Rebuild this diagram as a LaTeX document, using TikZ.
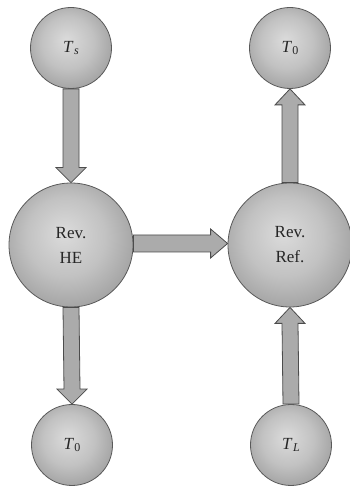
\documentclass[tikz,border=0pt]{standalone}
\usepackage{fontspec}
\setmainfont{Liberation Serif}
\usetikzlibrary{calc}
\pgfdeclareradialshading{sph}{\pgfpoint{-3bp}{5bp}}{%
  color(0bp)=(black!14);
  color(16bp)=(black!24);
  color(34bp)=(black!42);
  color(45bp)=(black!55);
  color(50bp)=(black!60)}
\newcommand{\Tsub}[1]{\textit{T}\kern0.5pt\raisebox{-0.35ex}{\fontsize{12}{12}\selectfont #1}}
\begin{document}
\begin{tikzpicture}[x=1pt,y=1pt,
  sphere/.style={circle, draw=black!65, line width=0.8pt, shading=sph,
    inner sep=0pt, font=\fontsize{17}{25}\selectfont, text=black!85, align=center},
  small/.style={sphere, minimum size=81pt},
  big/.style={sphere, minimum size=124pt},
  barrow/.style={fill=black!33, draw=black!70, line width=0.8pt, line join=miter}]
\useasboundingbox (0,0) rectangle (349,487);
\node[small] (Ts) at (71,439) {\Tsub{\textit{s}}};
\node[small] (T0t) at (290,439) {\Tsub{0}};
\node[big] (HE) at (71,242) {Rev.\\HE};
\node[big] (Ref) at (290,242) {Rev.\\Ref.};
\node[small] (T0b) at (72,42) {\Tsub{0}};
\node[small] (TL) at (291,42) {\Tsub{\textit{L}}};
% Ts -> HE
\draw[barrow] ($(Ts.south)+(-8,0)$) -- ($(HE.north)+(-8,15)$) -- ($(HE.north)+(-15,15)$)
  -- (HE.north) -- ($(HE.north)+(15,15)$) -- ($(HE.north)+(8,15)$) -- ($(Ts.south)+(8,0)$) -- cycle;
% HE -> T0b
\draw[barrow] ($(HE.south)+(-8,0)$) -- ($(T0b.north)+(-8,15)$) -- ($(T0b.north)+(-15,15)$)
  -- (T0b.north) -- ($(T0b.north)+(15,15)$) -- ($(T0b.north)+(8,15)$) -- ($(HE.south)+(8,0)$) -- cycle;
% Ref -> T0t
\draw[barrow] ($(Ref.north)+(-8,0)$) -- ($(T0t.south)+(-8,-16)$) -- ($(T0t.south)+(-15,-16)$)
  -- (T0t.south) -- ($(T0t.south)+(15,-16)$) -- ($(T0t.south)+(8,-16)$) -- ($(Ref.north)+(8,0)$) -- cycle;
% TL -> Ref
\draw[barrow] ($(TL.north)+(-8,0)$) -- ($(Ref.south)+(-8,-16)$) -- ($(Ref.south)+(-15,-16)$)
  -- (Ref.south) -- ($(Ref.south)+(15,-16)$) -- ($(Ref.south)+(8,-16)$) -- ($(TL.north)+(8,0)$) -- cycle;
% HE -> Ref
\draw[barrow] ($(HE.east)+(0,10)$) -- ($(Ref.west)+(-17,10)$) -- ($(Ref.west)+(-17,16)$)
  -- ($(Ref.west)+(0,1.5)$) -- ($(Ref.west)+(-17,-13)$) -- ($(Ref.west)+(-17,-7)$) -- ($(HE.east)+(0,-7)$) -- cycle;
\end{tikzpicture}
\end{document}
